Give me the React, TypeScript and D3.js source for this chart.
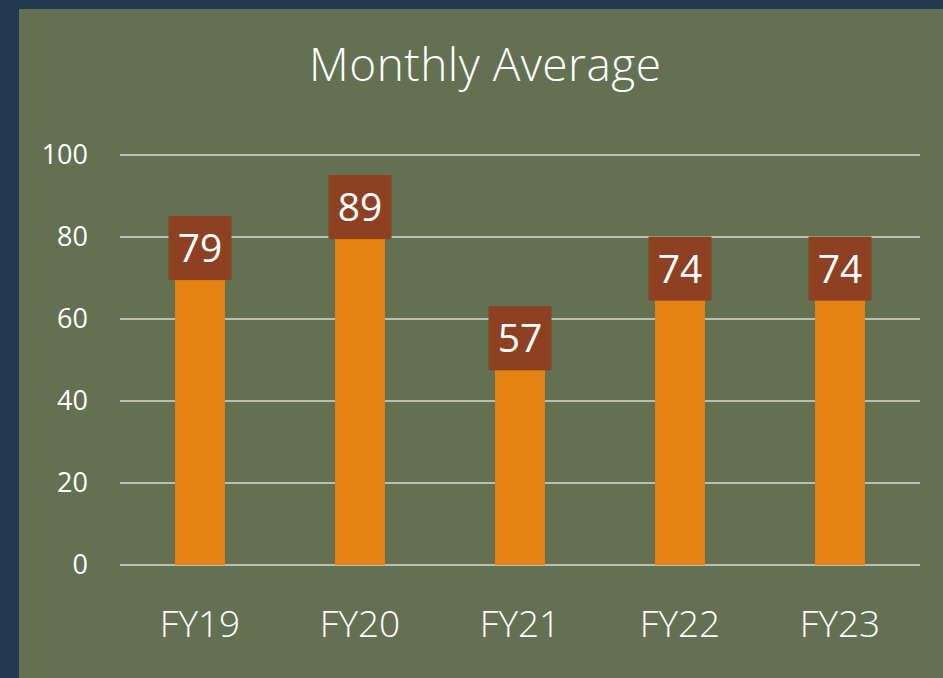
import React, { useEffect, useRef } from 'react';
import * as d3 from 'd3';

const categories = ['FY19', 'FY20', 'FY21', 'FY22', 'FY23'];
const values = [79, 89, 57, 74, 74];
const yTicks = [0, 20, 40, 60, 80, 100];

const FONT = "'Open Sans', 'Segoe UI', sans-serif";

export default function App() {
  const ref = useRef<SVGSVGElement>(null);

  useEffect(() => {
    const svg = d3.select(ref.current);
    svg.selectAll('*').remove();

    // outer frame and panel
    svg.append('rect').attr('width', 943).attr('height', 678).attr('fill', '#213A50');
    svg.append('rect').attr('x', 19).attr('y', 9).attr('width', 924).attr('height', 669).attr('fill', '#637152');

    const x = d3.scaleBand().domain(categories).range([120, 920]).paddingInner(0.6875).paddingOuter(0.34375);
    const y = d3.scaleLinear().domain([0, 100]).range([565, 155]);

    // title
    svg.append('text')
      .attr('x', 485).attr('y', 81)
      .attr('text-anchor', 'middle')
      .attr('fill', '#fff')
      .attr('font-family', FONT)
      .attr('font-weight', 300)
      .attr('font-size', 46)
      .attr('textLength', 352)
      .text('Monthly Average');

    // gridlines
    svg.append('g').selectAll('line').data(yTicks).join('line')
      .attr('x1', 120).attr('x2', 920)
      .attr('y1', d => y(d)).attr('y2', d => y(d))
      .attr('stroke', '#D9D9D9').attr('stroke-width', 1.5);

    // y labels
    svg.append('g').selectAll('text').data(yTicks).join('text')
      .attr('x', 88).attr('y', d => y(d) + 9)
      .attr('text-anchor', 'end')
      .attr('fill', '#fff')
      .attr('font-family', FONT)
      .attr('font-size', 27)
      .text(d => d);

    // bars
    svg.append('g').selectAll('rect').data(values).join('rect')
      .attr('x', (d, i) => x(categories[i])!)
      .attr('width', x.bandwidth())
      .attr('y', d => y(d))
      .attr('height', d => y(0) - y(d))
      .attr('fill', '#E48312');

    // data labels
    const lab = svg.append('g').selectAll('g').data(values).join('g')
      .attr('transform', (d, i) => `translate(${x(categories[i])! + x.bandwidth() / 2},${y(d) + 7})`);
    lab.append('rect')
      .attr('x', -31.5).attr('y', -32).attr('width', 63).attr('height', 64)
      .attr('fill', '#8E4122');
    lab.append('text')
      .attr('text-anchor', 'middle')
      .attr('y', 14)
      .attr('fill', '#fff')
      .attr('font-family', FONT)
      .attr('font-size', 39)
      .text(d => d);

    // x labels
    svg.append('g').selectAll('text').data(categories).join('text')
      .attr('x', d => x(d)! + x.bandwidth() / 2)
      .attr('y', 637)
      .attr('text-anchor', 'middle')
      .attr('fill', '#fff')
      .attr('font-family', FONT)
      .attr('font-weight', 300)
      .attr('font-size', 37)
      .text(d => d);
  }, []);

  return (
    <svg ref={ref} width={943} height={678} style={{ position: 'absolute', left: 0, top: 0 }} />
  );
}
